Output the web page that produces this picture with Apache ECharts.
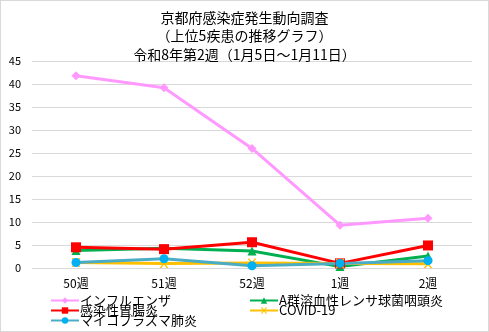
<!DOCTYPE html>
<html>
<head>
<meta charset="utf-8">
<script src="https://cdn.jsdelivr.net/npm/echarts@6/dist/echarts.min.js"></script>
<style>
  html, body { margin: 0; padding: 0; background: #fff; }
  #chart { width: 489px; height: 332px; box-sizing: border-box; border: 1px solid #D9D9D9; }
</style>
</head>
<body>
<div id="chart"></div>
<script>
// Weekly reports per sentinel site, top 5 diseases
const weeks = ['50週', '51週', '52週', '1週', '2週'];
const yTicks = [0, 45, 5]; // min, max, interval

const influenza      = [41.8, 39.2, 26.0, 9.3, 10.8];
const groupAStrep    = [3.8, 4.3, 3.7, 0.3, 2.6];
const gastroenteritis = [4.5, 4.1, 5.6, 1.0, 4.9];
const covid19        = [1.2, 1.0, 1.1, 1.0, 0.9];
const mycoplasma     = [1.2, 2.0, 0.5, 1.0, 1.6];

const seriesNames = ['インフルエンザ', 'A群溶血性レンサ球菌咽頭炎', '感染性胃腸炎', 'COVID-19', 'マイコプラズマ肺炎'];

const titleLines = ['京都府感染症発生動向調査', '（上位5疾患の推移グラフ）', '令和8年第2週（1月5日～1月11日）'];

const FONT = '"Noto Sans CJK JP", "Noto Sans", sans-serif';

function lineSeries(name, data, lineColor, markerColor, symbol, size) {
  return {
    name: name,
    type: 'line',
    data: data,
    symbol: symbol,
    symbolSize: size,
    showAllSymbol: true,
    lineStyle: { color: lineColor, width: 3 },
    itemStyle: { color: markerColor, borderWidth: 0 },
    emphasis: { disabled: true },
    animation: false
  };
}

function legendAt(name, left, top) {
  return {
    data: [name],
    left: left,
    top: top,
    itemWidth: 28,
    itemHeight: 8,
    itemGap: 0,
    padding: 0,
    textStyle: { fontFamily: FONT, fontSize: 13, color: '#000', padding: [0, 0, 0, -4] },
    selectedMode: false
  };
}

const chart = echarts.init(document.getElementById('chart'), null, { renderer: 'canvas' });
chart.setOption({
  backgroundColor: '#fff',
  title: {
    text: titleLines.join('\n'),
    left: 'center',
    top: 2,
    textStyle: { fontFamily: FONT, fontSize: 14, fontWeight: 'normal', color: '#000', lineHeight: 18.5 }
  },
  legend: [
    legendAt(seriesNames[0], 49, 293),
    legendAt(seriesNames[2], 49, 303),
    legendAt(seriesNames[4], 49, 313),
    legendAt(seriesNames[1], 248, 293),
    legendAt(seriesNames[3], 248, 303)
  ],
  grid: { left: 31, right: 16, top: 60, bottom: 63 },
  xAxis: {
    type: 'category',
    data: weeks,
    boundaryGap: true,
    axisLine: { show: false },
    axisTick: { show: false },
    axisLabel: { fontFamily: FONT, fontSize: 12, color: '#000', margin: 9 }
  },
  yAxis: {
    type: 'value',
    min: yTicks[0],
    max: yTicks[1],
    interval: yTicks[2],
    axisLine: { show: false },
    axisTick: { show: false },
    axisLabel: { fontFamily: FONT, fontSize: 11, color: '#000', margin: 11 },
    splitLine: { lineStyle: { color: '#D9D9D9', width: 1 } }
  },
  series: [
    lineSeries(seriesNames[0], influenza, '#FF99FF', '#FF99FF', 'diamond', 9),
    lineSeries(seriesNames[1], groupAStrep, '#00B050', '#00B050', 'triangle', 9),
    lineSeries(seriesNames[2], gastroenteritis, '#FF0000', '#FF0000', 'rect', 10),
    lineSeries(seriesNames[3], covid19, '#FFC000', '#FFC000', 'path://M0,0L2,0L5,3L8,0L10,0L6,4L10,8L8,8L5,5L2,8L0,8L4,4Z', 9),
    lineSeries(seriesNames[4], mycoplasma, '#4BACC6', '#00B0F0', 'circle', 9)
  ]
});
</script>
</body>
</html>
